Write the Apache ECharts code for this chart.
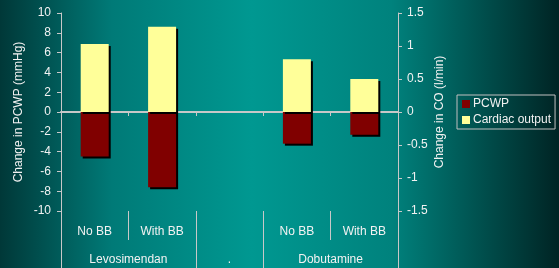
<!DOCTYPE html>
<html>
<head>
<meta charset="utf-8">
<script src="https://cdn.jsdelivr.net/npm/echarts@6/dist/echarts.min.js"></script>
<style>
  html, body { margin: 0; padding: 0; }
  #chart { width: 559px; height: 268px; }
</style>
</head>
<body>
<div id="chart"></div>
<script>
// data
const categories = ['No BB', 'With BB', '', 'No BB', 'With BB'];
const groupNames = ['Levosimendan', '.', 'Dobutamine'];
const groupCenters = [1, 2.5, 4];     // positions on a 0..5 scale of the 5 slots
const groupBounds = [0, 2, 3, 5];
const pcwp = [-4.5, -7.6, null, -3.2, -2.3];      // mmHg
const cardiacOutput = [1.03, 1.29, null, 0.8, 0.5]; // l/min

const chart = echarts.init(document.getElementById('chart'));

const txt = {
    color: '#f2f2f2',
    fontFamily: 'Liberation Sans, Arial, sans-serif',
    fontSize: 12,
    textShadowColor: 'rgba(0,0,0,0.6)',
    textShadowOffsetX: 1,
    textShadowOffsetY: 1
};
const lineCol = '#c8c8c8';
const shadow = { shadowColor: '#000', shadowOffsetX: 2, shadowOffsetY: 2, shadowBlur: 0 };

let option = {
    animation: false,
    backgroundColor: {
        type: 'linear', x: 0, y: 0, x2: 1, y2: 0,
        colorStops: [
            { offset: 0, color: '#003838' },
            { offset: 0.2, color: '#007a77' },
            { offset: 0.45, color: '#009891' },
            { offset: 0.7, color: '#00827d' },
            { offset: 1, color: '#002424' }
        ]
    },
    grid: { left: 61, right: 161, top: 13, bottom: 57 },
    legend: {
        orient: 'vertical',
        left: 457, top: 95,
        itemWidth: 8, itemHeight: 8, itemGap: 4,
        padding: [3, 4, 3, 5],
        borderColor: '#c0c0c0', borderWidth: 1,
        textStyle: Object.assign({}, txt, { padding: [0, 0, 0, -2] }),
        data: [
            { name: 'PCWP', icon: 'rect' },
            { name: 'Cardiac output', icon: 'rect' }
        ]
    },
    xAxis: [
        {   // zero line with small ticks
            type: 'category',
            data: categories,
            axisLine: { onZero: true, lineStyle: { color: lineCol, width: 2 } },
            axisTick: { show: true, interval: 0, length: 4, lineStyle: { color: lineCol } },
            axisLabel: { show: false },
            splitLine: { show: false }
        },
        {   // sub-category labels
            type: 'category',
            data: categories,
            position: 'bottom',
            axisLine: { show: false, onZero: false },
            axisTick: { show: true, interval: 0, length: 29, lineStyle: { color: lineCol } },
            axisLabel: Object.assign({ interval: 0, margin: 15 }, txt),
            splitLine: { show: false }
        },
        {   // group labels
            type: 'value',
            min: 0, max: 5,
            position: 'bottom',
            axisLine: { show: false, onZero: false },
            axisTick: { show: true, customValues: groupBounds, length: 57, lineStyle: { color: lineCol } },
            axisLabel: Object.assign({
                customValues: groupCenters,
                margin: 43,
                formatter: function (v) {
                    const i = groupCenters.indexOf(v);
                    return i >= 0 ? groupNames[i] : '';
                }
            }, txt),
            splitLine: { show: false }
        }
    ],
    yAxis: [
        {
            type: 'value',
            min: -10, max: 10, interval: 2,
            name: 'Change in PCWP (mmHg)',
            nameLocation: 'middle',
            nameGap: 36,
            nameMoveOverlap: false,
            nameTextStyle: txt,
            axisLine: { show: true, lineStyle: { color: lineCol } },
            axisTick: { show: true, length: 4, lineStyle: { color: lineCol } },
            axisLabel: Object.assign({ margin: 10 }, txt),
            splitLine: { show: false }
        },
        {
            type: 'value',
            min: -1.5, max: 1.5, interval: 0.5,
            name: 'Change in CO (l/min)',
            nameLocation: 'middle',
            nameGap: 36,
            nameMoveOverlap: false,
            nameTextStyle: txt,
            axisLine: { show: true, lineStyle: { color: lineCol } },
            axisTick: { show: true, length: 4, lineStyle: { color: lineCol } },
            axisLabel: Object.assign({ margin: 9 }, txt),
            splitLine: { show: false }
        }
    ],
    series: [
        {
            name: 'PCWP',
            type: 'bar',
            xAxisIndex: 0, yAxisIndex: 0,
            data: pcwp,
            barWidth: 28,
            barGap: '-100%',
            itemStyle: Object.assign({ color: '#800000' }, shadow)
        },
        {
            name: 'Cardiac output',
            type: 'bar',
            xAxisIndex: 0, yAxisIndex: 1,
            data: cardiacOutput,
            barWidth: 28,
            barGap: '-100%',
            itemStyle: Object.assign({ color: '#ffff99' }, shadow)
        }
    ]
};

chart.setOption(option);
</script>
</body>
</html>
